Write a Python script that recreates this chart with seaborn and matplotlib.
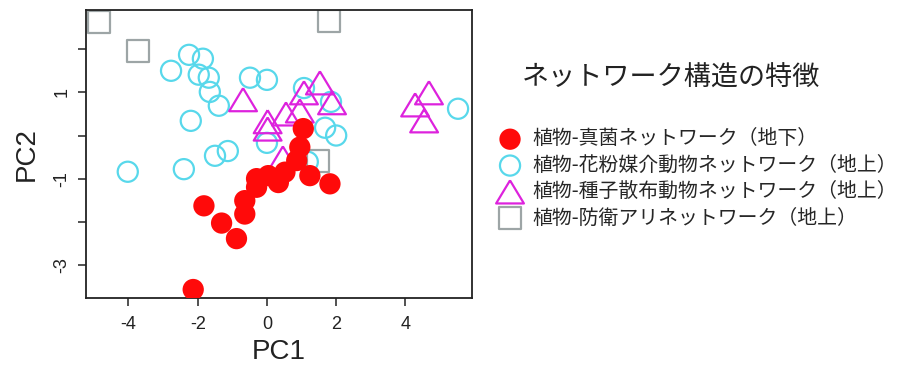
import numpy as np
import pandas as pd
import matplotlib
matplotlib.use("Agg")
import matplotlib.pyplot as plt
from matplotlib.font_manager import FontProperties
import seaborn as sns

# PCA scores of network-structure descriptors, one array pair per network type
fungal_pc1 = [-2.13, -1.82, -1.31, -0.88, -0.64, -0.64, -0.30, -0.30, 0.04, 0.33,
              0.52, 0.86, 0.95, 1.05, 1.24, 1.82]
fungal_pc2 = [-3.57, -1.63, -2.03, -2.39, -1.82, -1.51, -1.20, -1.00, -0.93, -1.09,
              -0.85, -0.58, -0.27, 0.16, -0.93, -1.12]

pollinator_pc1 = [-2.25, -1.85, -2.77, -1.97, -1.68, -1.65, -1.39, -2.20, -0.49, 0.00,
                  1.07, 1.85, 1.68, 2.00, 5.52, 0.00, -4.02, -2.40, -1.50, -1.13, 1.18]
pollinator_pc2 = [1.87, 1.78, 1.50, 1.41, 1.34, 1.01, 0.69, 0.34, 1.34, 1.29,
                  1.10, 0.78, 0.18, 0.00, 0.62, -0.17, -0.84, -0.78, -0.47, -0.36, -0.61]

disperser_pc1 = [-0.69, 0.02, 0.02, 0.55, 0.95, 1.07, 1.53, 1.88, 0.46, 4.68, 4.28, 4.54]
disperser_pc2 = [0.83, 0.32, 0.15, 0.50, 0.57, 0.99, 1.22, 0.76, -0.52, 0.99, 0.71, 0.34]

ant_pc1 = [-4.86, -3.73, 1.79, 1.47]
ant_pc2 = [2.64, 1.96, 2.66, -0.59]

group_names = [
    "植物-真菌ネットワーク（地下）",
    "植物-花粉媒介動物ネットワーク（地上）",
    "植物-種子散布動物ネットワーク（地上）",
    "植物-防衛アリネットワーク（地上）",
]
legend_title = "ネットワーク構造の特徴"

x_ticks = [-4, -2, 0, 2, 4]
x_tick_labels = ["-4", "-2", "0", "2", "4"]
y_ticks = [-3, -2, -1, 0, 1, 2]
y_tick_labels = ["-3", "", "-1", "", "1", ""]

frames = []
for name, xs, ys in zip(group_names,
                        [fungal_pc1, pollinator_pc1, disperser_pc1, ant_pc1],
                        [fungal_pc2, pollinator_pc2, disperser_pc2, ant_pc2]):
    frames.append(pd.DataFrame({"PC1": xs, "PC2": ys, "network": name}))
df = pd.concat(frames, ignore_index=True)

sns.set_theme(style="ticks")
plt.rcParams["font.family"] = ["Liberation Sans", "Noto Sans CJK JP"]

fig = plt.figure(figsize=(9.04, 3.69), dpi=100)
ax = fig.add_axes([0.095, 0.192, 0.427, 0.781])

# wide, slightly flattened open triangle
tri = [(0, 0.83), (-1, -0.83), (1, -0.83), (0, 0.83)]

styles = {
    group_names[3]: dict(marker="s", s=250, facecolor="none", edgecolor="#9da5a6", linewidth=1.6, zorder=2),
    group_names[1]: dict(marker="o", s=210, facecolor="none", edgecolor="#58d8eb", linewidth=1.6, zorder=3),
    group_names[2]: dict(marker=tri, s=400, facecolor="none", edgecolor="#dd22dd", linewidth=1.6, zorder=4),
    group_names[0]: dict(marker="o", s=235, facecolor="#ff0a0a", edgecolor="none", linewidth=0, zorder=5),
}

for name in [group_names[3], group_names[1], group_names[2], group_names[0]]:
    st = styles[name]
    sns.scatterplot(data=df[df["network"] == name], x="PC1", y="PC2", ax=ax,
                    marker=st["marker"], s=st["s"], facecolor=st["facecolor"],
                    edgecolor=st["edgecolor"], linewidth=st["linewidth"],
                    zorder=st["zorder"], label=name, legend=False)

ax.set_xlim(-5.23, 5.92)
ax.set_ylim(-3.77, 2.91)
ax.set_xticks(x_ticks)
ax.set_xticklabels(x_tick_labels)
ax.set_yticks(y_ticks)
ax.set_yticklabels(y_tick_labels, rotation=90, va="center")
ax.tick_params(axis="both", direction="out", length=6, width=1.1, color="#222222",
               labelsize=13, labelcolor="#222222")
ax.tick_params(axis="x", pad=7)
ax.tick_params(axis="y", pad=5)
for sp in ax.spines.values():
    sp.set_visible(True)
    sp.set_linewidth(1.3)
    sp.set_color("#222222")

ax.set_xlabel("PC1", fontsize=20, color="#222222", labelpad=4)
ax.set_ylabel("PC2", fontsize=20, color="#222222", labelpad=10)

cjk = FontProperties(family=["Noto Sans CJK JP", "DejaVu Sans"], size=14.3)
handles, labels = ax.get_legend_handles_labels()
order = [labels.index(n) for n in group_names]
fig.legend([handles[i] for i in order], [labels[i] for i in order],
           loc="upper left", bbox_to_anchor=(0.551, 0.652), bbox_transform=fig.transFigure,
           frameon=False, prop=cjk, handletextpad=0.55, labelspacing=0.27,
           borderpad=0, handlelength=1.2, borderaxespad=0)

fig.text(0.577, 0.787, legend_title, fontsize=19.5, color="#222222",
         family=["Noto Sans CJK JP", "DejaVu Sans"], va="center", ha="left")

fig.savefig("out.png", dpi=100)
